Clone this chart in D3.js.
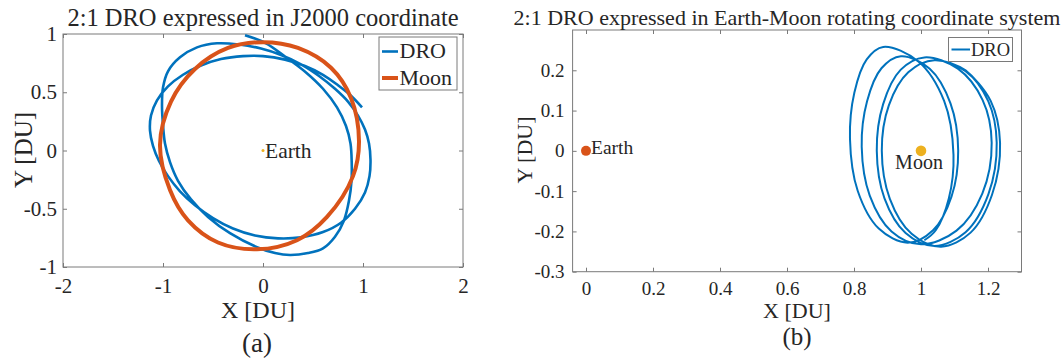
<!DOCTYPE html>
<html>
<head>
<meta charset="utf-8">
<script src="https://cdn.jsdelivr.net/npm/d3@7"></script>
<style>
  body { margin: 0; background: #fff; }
  svg text { font-family: "Liberation Serif", "Times New Roman", serif; fill: #262626; }
</style>
</head>
<body>
<svg id="chart" width="1063" height="362"></svg>
<script>
// ---- data ----
// (a) DRO in J2000, one continuous path [x, y] in DU
const droJ2000 = [
  [0.99, 0.37], [0.88, 0.47], [0.75, 0.56], [0.6, 0.65], [0.42, 0.725], [0.22, 0.78],
  [0.0, 0.81], [-0.2, 0.81], [-0.42, 0.785], [-0.62, 0.73], [-0.8, 0.65], [-0.95, 0.55],
  [-1.06, 0.43], [-1.12, 0.3], [-1.13, 0.17], [-1.1, 0.04], [-1.04, -0.09], [-0.95, -0.22],
  [-0.83, -0.35], [-0.68, -0.47], [-0.5, -0.58], [-0.3, -0.67], [-0.08, -0.73], [0.15, -0.754],
  [0.38, -0.745], [0.6, -0.7], [0.78, -0.62], [0.92, -0.5], [1.02, -0.36], [1.065, -0.22],
  [1.075, -0.08], [1.06, 0.06], [1.02, 0.18], [0.95, 0.3], [0.85, 0.42], [0.72, 0.53],
  [0.56, 0.64], [0.38, 0.74], [0.18, 0.82], [-0.02, 0.875], [-0.24, 0.91], [-0.46, 0.92],
  [-0.66, 0.885], [-0.83, 0.8], [-0.95, 0.68], [-1.0, 0.54], [-1.01, 0.38], [-1.0, 0.22],
  [-0.98, 0.06], [-0.93, -0.1], [-0.85, -0.26], [-0.72, -0.42], [-0.55, -0.57], [-0.33, -0.71],
  [-0.06, -0.83], [0.12, -0.88], [0.27, -0.897], [0.45, -0.88], [0.6, -0.84], [0.72, -0.74],
  [0.81, -0.6], [0.86, -0.43], [0.885, -0.26], [0.887, -0.1], [0.875, 0.06], [0.83, 0.21],
  [0.74, 0.37], [0.6, 0.53], [0.43, 0.67], [0.23, 0.8], [0.03, 0.92], [-0.18, 0.99]
];
// (a) Moon orbit in J2000 (closed)
const moonJ2000 = [
  [0.96, 0.08], [0.88, 0.45], [0.68, 0.71], [0.35, 0.88], [0.0, 0.93], [-0.35, 0.88],
  [-0.68, 0.7], [-0.92, 0.42], [-1.03, 0.05], [-0.93, -0.34], [-0.75, -0.6], [-0.45, -0.79],
  [-0.06, -0.848], [0.34, -0.77], [0.64, -0.57], [0.9, -0.22]
];
// (b) DRO in Earth-Moon rotating frame
const droRotating = [
  [1.10, 0.214], [1.133, 0.2], [1.208, 0.124], [1.236, 0.02], [1.212, -0.109], [1.148, -0.203],
  [1.06, -0.238], [0.972, -0.206], [0.907, -0.119], [0.883, 0.0], [0.904, 0.113], [0.962, 0.195],
  [1.04, 0.225], [1.133, 0.198], [1.201, 0.123], [1.226, 0.02], [1.201, -0.108], [1.133, -0.202],
  [1.04, -0.236], [0.954, -0.204], [0.891, -0.118], [0.868, 0.0], [0.887, 0.116], [0.939, 0.201],
  [1.01, 0.232], [1.11, 0.204], [1.184, 0.126], [1.211, 0.02], [1.183, -0.106], [1.106, -0.198],
  [1.0, -0.232], [0.912, -0.2], [0.847, -0.111], [0.823, 0.01], [0.839, 0.123], [0.882, 0.205],
  [0.94, 0.235], [1.026, 0.204], [1.088, 0.118], [1.111, 0.0], [1.091, -0.114], [1.036, -0.197],
  [0.96, -0.228], [0.874, -0.193], [0.811, -0.099], [0.788, 0.03], [0.801, 0.144], [0.838, 0.227],
  [0.887, 0.258], [0.992, 0.222], [1.069, 0.124], [1.097, -0.01], [1.083, -0.118], [1.044, -0.197],
  [1.01, -0.222]
];
const earthPos = [0, 0];
const moonPos = [1, 0];

const aXTicks = [-2, -1, 0, 1, 2];
const aXTickLabels = ["-2", "-1", "0", "1", "2"];
const aYTicks = [-1, -0.5, 0, 0.5, 1];
const aYTickLabels = ["-1", "-0.5", "0", "0.5", "1"];
const bXTicks = [0, 0.2, 0.4, 0.6, 0.8, 1, 1.2];
const bXTickLabels = ["0", "0.2", "0.4", "0.6", "0.8", "1", "1.2"];
const bYTicks = [-0.3, -0.2, -0.1, 0, 0.1, 0.2];
const bYTickLabels = ["-0.3", "-0.2", "-0.1", "0", "0.1", "0.2"];

const blue = "#0072BD", orange = "#D95319", yellow = "#EDB120";
const axisCol = "#7a7a7a";

const svg = d3.select("#chart");

function panel(o) {
  const x = d3.scaleLinear().domain(o.xDomain).range(o.xRange);
  const y = d3.scaleLinear().domain(o.yDomain).range(o.yRange);
  const [x0, x1] = o.xRange, [y0, y1] = o.yRange;
  const g = svg.append("g");
  const tk = 4;

  const bottom = g.append("g").attr("transform", `translate(0,${y0})`)
    .call(d3.axisBottom(x).tickValues(o.xTicks).tickFormat((d, i) => o.xLabels[i]).tickSize(-tk));
  bottom.selectAll("text").attr("y", o.xLabelY).attr("dy", 0).style("font-size", o.tickFont + "px");
  const left = g.append("g").attr("transform", `translate(${x0},0)`)
    .call(d3.axisLeft(y).tickValues(o.yTicks).tickFormat((d, i) => o.yLabels[i]).tickSize(-tk).tickPadding(o.yPad));
  left.selectAll("text").style("font-size", o.tickFont + "px");
  // ticks on top and right, no labels
  g.append("g").attr("transform", `translate(0,${y1})`)
    .call(d3.axisTop(x).tickValues(o.xTicks).tickFormat(() => "").tickSize(-tk));
  g.append("g").attr("transform", `translate(${x1},0)`)
    .call(d3.axisRight(y).tickValues(o.yTicks).tickFormat(() => "").tickSize(-tk));
  g.selectAll(".domain").remove();
  g.selectAll(".tick line").attr("stroke", axisCol);

  g.append("rect").attr("x", x0).attr("y", y1).attr("width", x1 - x0).attr("height", y0 - y1)
    .attr("fill", "none").attr("stroke", axisCol).attr("stroke-width", 1);
  return { g, x, y };
}

const line = (x, y, curve) => d3.line().x(d => x(d[0])).y(d => y(d[1])).curve(curve || d3.curveCatmullRom.alpha(0.5));

// ---------- (a) ----------
const A = panel({
  xDomain: [-2, 2], xRange: [63, 463], yDomain: [-1, 1], yRange: [267, 34],
  xTicks: aXTicks, xLabels: aXTickLabels, yTicks: aYTicks, yLabels: aYTickLabels,
  tickFont: 21, xLabelY: 26, yPad: 6
});
A.g.append("path").attr("d", line(A.x, A.y)(droJ2000))
  .attr("fill", "none").attr("stroke", blue).attr("stroke-width", 2.6);
A.g.append("path").attr("d", line(A.x, A.y, d3.curveCatmullRomClosed.alpha(0.5))(moonJ2000))
  .attr("fill", "none").attr("stroke", orange).attr("stroke-width", 4);
A.g.append("circle").attr("cx", A.x(earthPos[0])).attr("cy", A.y(earthPos[1])).attr("r", 1.5).attr("fill", yellow);
A.g.append("text").attr("x", A.x(earthPos[0]) + 2).attr("y", A.y(earthPos[1]) + 7)
  .style("font-size", "21.5px").text("Earth");

// legend (a)
const la = A.g.append("g");
la.append("rect").attr("x", 379).attr("y", 37).attr("width", 78).attr("height", 53)
  .attr("fill", "#fff").attr("stroke", axisCol);
[["DRO", blue, 2.6, 51.5], ["Moon", orange, 4, 78]].forEach(([t, c, w, cy]) => {
  la.append("line").attr("x1", 382).attr("x2", 398).attr("y1", cy).attr("y2", cy).attr("stroke", c).attr("stroke-width", w);
  la.append("text").attr("x", 399.5).attr("y", cy + 6.8).style("font-size", "22px").text(t);
});

svg.append("text").attr("x", 263).attr("y", 26).attr("text-anchor", "middle").style("font-size", "24.5px")
  .text("2:1 DRO expressed in J2000 coordinate");
svg.append("text").attr("x", 258).attr("y", 318).attr("text-anchor", "middle").style("font-size", "24px").text("X [DU]");
svg.append("text").attr("transform", "translate(32,150) rotate(-90)").attr("text-anchor", "middle")
  .style("font-size", "25px").text("Y [DU]");
svg.append("text").attr("x", 257).attr("y", 352).attr("text-anchor", "middle").style("font-size", "27px").text("(a)");

// ---------- (b) ----------
const B = panel({
  xDomain: [-0.04, 1.3], xRange: [572.6, 1021.5], yDomain: [-0.3, 0.3], yRange: [271.7, 30],
  xTicks: bXTicks, xLabels: bXTickLabels, yTicks: bYTicks, yLabels: bYTickLabels,
  tickFont: 19, xLabelY: 23, yPad: 8
});
B.g.append("path").attr("d", line(B.x, B.y)(droRotating))
  .attr("fill", "none").attr("stroke", blue).attr("stroke-width", 2);
B.g.append("circle").attr("cx", B.x(earthPos[0])).attr("cy", B.y(earthPos[1])).attr("r", 5).attr("fill", orange);
B.g.append("text").attr("x", B.x(earthPos[0]) + 5).attr("y", B.y(earthPos[1]) + 3)
  .style("font-size", "19.5px").text("Earth");
B.g.append("circle").attr("cx", B.x(moonPos[0])).attr("cy", B.y(moonPos[1])).attr("r", 5.3).attr("fill", yellow);
B.g.append("text").attr("x", B.x(moonPos[0]) - 2).attr("y", B.y(moonPos[1]) + 18).attr("text-anchor", "middle")
  .style("font-size", "20px").text("Moon");

const lb = B.g.append("g");
lb.append("rect").attr("x", 948.5).attr("y", 37.5).attr("width", 64).attr("height", 24)
  .attr("fill", "#fff").attr("stroke", axisCol);
lb.append("line").attr("x1", 951.5).attr("x2", 970).attr("y1", 49.5).attr("y2", 49.5).attr("stroke", blue).attr("stroke-width", 2);
lb.append("text").attr("x", 971).attr("y", 56).style("font-size", "18.5px").text("DRO");

svg.append("text").attr("x", 787).attr("y", 25).attr("text-anchor", "middle").style("font-size", "22px")
  .text("2:1 DRO expressed in Earth-Moon rotating coordinate system");
svg.append("text").attr("x", 797).attr("y", 318).attr("text-anchor", "middle").style("font-size", "22px").text("X [DU]");
svg.append("text").attr("transform", "translate(532,150) rotate(-90)").attr("text-anchor", "middle")
  .style("font-size", "22px").text("Y [DU]");
svg.append("text").attr("x", 797).attr("y", 345).attr("text-anchor", "middle").style("font-size", "25px").text("(b)");
</script>
</body>
</html>
